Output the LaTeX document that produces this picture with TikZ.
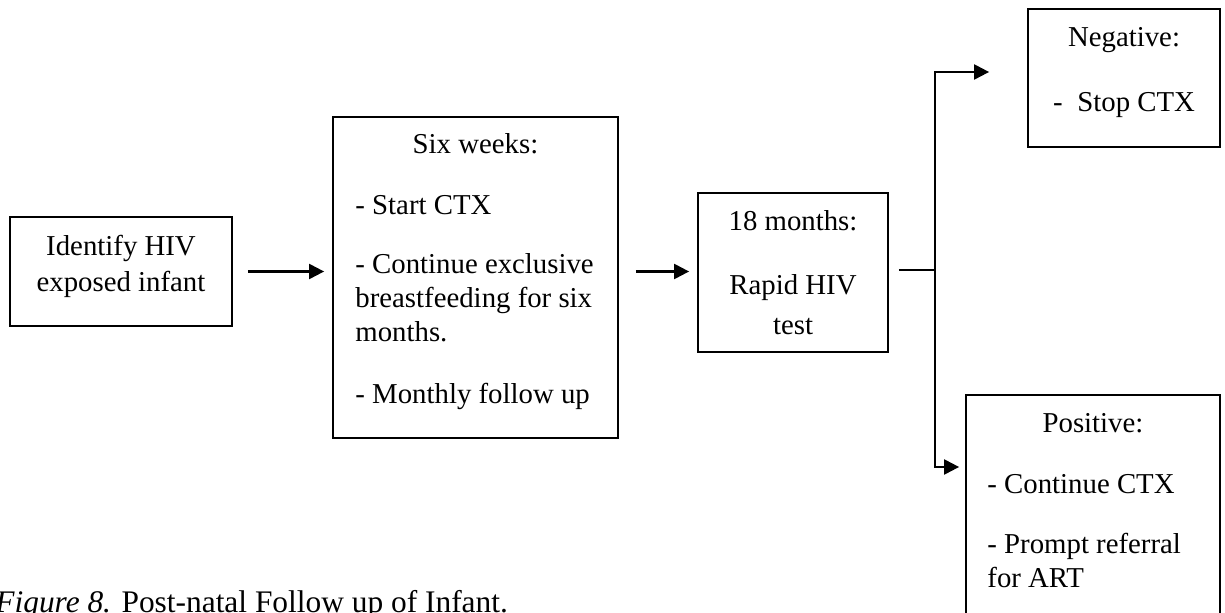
\documentclass[tikz,border=0pt]{standalone}
\usepackage{fontspec}
\setmainfont{Liberation Serif}
\usetikzlibrary{arrows.meta,calc}
\begin{document}
\begin{tikzpicture}[x=0.5pt,y=-0.5pt,
  box/.style={draw,line width=0.9pt,inner sep=0pt},
  conn/.style={line width=1.1pt},
  arr/.style={conn,-{Triangle[length=7.5pt,width=7.5pt]}},
  txt/.style={inner sep=0pt,font=\fontsize{14.4}{17}\selectfont},
  ctr/.style={txt,anchor=base},
  lft/.style={txt,anchor=base west},
]
\useasboundingbox (0,0) rectangle (1225,613);

% boxes
\node[box,minimum width=111pt,minimum height=54.5pt] (b1) at (121,271.5) {};
\node[box,minimum width=142.5pt,minimum height=160.5pt] (b2) at (475.5,277.5) {};
\node[box,minimum width=95pt,minimum height=79.5pt] (b3) at (793,272.5) {};
\node[box,minimum width=96pt,minimum height=69pt] (bneg) at (1124,78) {};
\node[box,minimum width=127pt,minimum height=127.5pt] (bpos) at (1093,522.5) {};

% box texts
\node[ctr] (t1a) at (121,256) {Identify HIV};
\node[ctr] (t1b) at (121,292) {exposed infant};

\node[ctr] (t2a) at (475.5,154) {Six weeks:};
\node[lft] (t2b) at (355,215) {- Start CTX};
\node[lft] (t2c) at (355,274) {- Continue exclusive};
\node[lft] (t2d) at (355,308) {breastfeeding for six};
\node[lft] (t2e) at (355,342) {months.};
\node[lft] (t2f) at (355,404) {- Monthly follow up};

\node[ctr] (t3a) at (793,231) {18 months:};
\node[ctr] (t3b) at (793,295) {Rapid HIV};
\node[ctr] (t3c) at (793,335) {test};

\node[ctr] (t4a) at (1124,47) {Negative:};
\node[ctr] (t4b) at (1124,112) {-\hspace{7.4pt}Stop CTX};

\node[ctr] (t5a) at (1093,433) {Positive:};
\node[lft] (t5b) at (987,494) {- Continue CTX};
\node[lft] (t5c) at (987,554) {- Prompt referral};
\node[lft] (t5d) at (987,588) {for ART};

% connectors
\draw[arr,shorten <=7.5pt,shorten >=4pt] (b1.east) -- (b1.east -| b2.west);
\draw[arr,shorten <=8.5pt,shorten >=4pt] (b1.east -| b2.east) -- (b1.east -| b3.west);

\coordinate (jn) at (935,270);
\coordinate (tn) at (935,72);
\coordinate (bn) at (935,467);
\draw[conn] ([xshift=5pt]b3.east |- jn) -- (jn);
\draw[arr] (jn) |- ([xshift=-19pt]bneg.west |- tn);
\draw[arr] (jn) |- ([xshift=-3pt]bpos.west |- bn);

% caption
\node[txt,font=\fontsize{15.7}{18}\selectfont,anchor=base west] (cap) at (-5,613)
  {\textit{Figure 8.} Post-natal Follow up of Infant.};
\end{tikzpicture}
\end{document}
